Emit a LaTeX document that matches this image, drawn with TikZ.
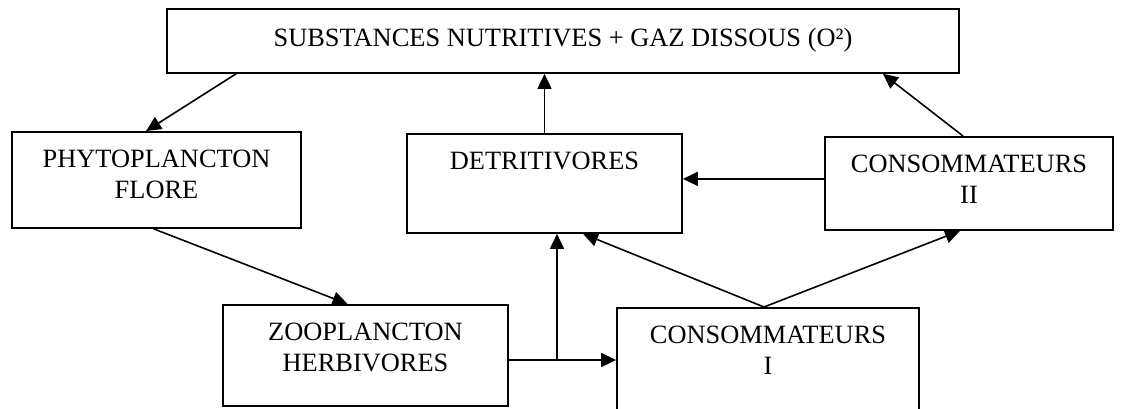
\documentclass[tikz,border=0pt]{standalone}
\usepackage{fontspec}
\setmainfont{Liberation Serif}
\usetikzlibrary{arrows.meta}

\tikzset{
  box/.style={draw, line width=1.8pt, anchor=north, align=center, inner sep=0pt,
    font=\fontsize{26.4}{31}\selectfont, text height=67pt},
  flow/.style={line width=1.6pt, >={Triangle[length=15pt,width=14pt]}}
}

\begin{document}
\begin{tikzpicture}[x=1pt,y=-1pt]
   \path[use as bounding box, clip] (0,0) rectangle (1122,409);
   \node[box, minimum width=792pt, text height=38pt, text depth=26pt] (sub) at (563,8) {SUBSTANCES NUTRITIVES + GAZ DISSOUS (O²)};
   \node[box, minimum width=289pt, text depth=29pt] (phyto) at (156.5,131) {PHYTOPLANCTON\\FLORE};
   \node[box, minimum width=275pt, text height=36pt, text depth=63pt] (detr) at (544.5,133) {DETRITIVORES};
   \node[box, minimum width=288pt, text depth=26pt] (cons2) at (969,136) {CONSOMMATEURS\\II};
   \node[box, minimum width=285pt, text depth=34pt] (zoo) at (365.5,304) {ZOOPLANCTON\\HERBIVORES};
   \node[box, minimum width=302pt, text depth=70pt] (cons1) at (768,307) {CONSOMMATEURS\\I};
   \coordinate (fork) at (557,360);
   \path[flow,->] ([xshift=70pt]sub.south west) edge ([xshift=135pt]phyto.north west);
   \path[flow,->] (detr.north) edge (detr.north |- sub.south);
   \path[flow,->] ([xshift=-6pt]cons2.north) edge ([xshift=-77pt]sub.south east);
   \path[flow,->] ([yshift=4.5pt]cons2.west) edge ([yshift=4.5pt]cons2.west -| detr.east);
   \path[flow,->] ([xshift=-3pt]phyto.south) edge ([xshift=-18pt]zoo.north);
   \path[flow] (zoo.east |- fork) edge (fork);
   \path[flow,->] (fork) edge (fork -| cons1.west);
   \path[flow,->] (fork) edge (fork |- detr.south);
   \path[flow,->] ([xshift=-4pt]cons1.north) edge ([xshift=38.5pt]detr.south);
   \path[flow,->] ([xshift=-4pt]cons1.north) edge ([xshift=-9pt]cons2.south);
\end{tikzpicture}
\end{document}
